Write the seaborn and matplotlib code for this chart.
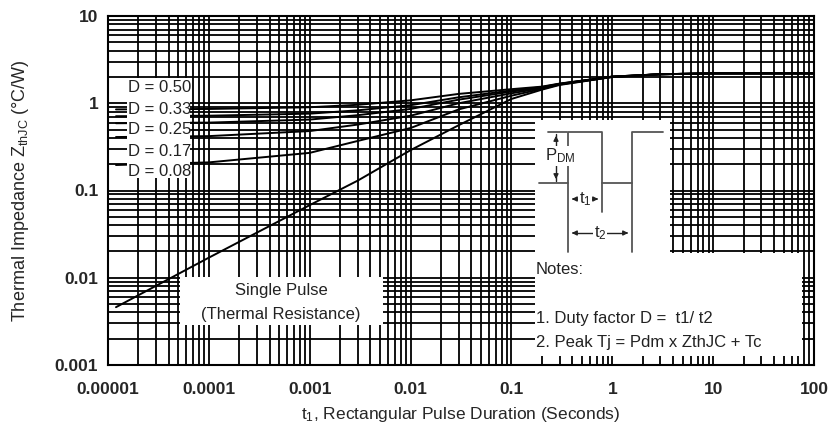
import numpy as np
import pandas as pd
import matplotlib
matplotlib.use('Agg')
import matplotlib.pyplot as plt
from matplotlib.ticker import LogLocator, FixedFormatter, FixedLocator
import seaborn as sns

# Pulse durations (s) and read-off impedances (°C/W)
t_pulse = [1.2e-5, 1e-4, 1e-3, 3e-3, 1e-2, 3e-2, 0.1, 0.2, 0.3, 1, 3, 10, 100]
z_d050 = [0.85, 0.86, 0.90, 0.96, 1.08, 1.28, 1.45, 1.55, 1.68, 2.02, 2.15, 2.2, 2.2]
z_d033 = [0.71, 0.72, 0.76, 0.83, 0.95, 1.17, 1.40, 1.53, 1.67, 2.02, 2.15, 2.2, 2.2]
z_d025 = [0.59, 0.60, 0.65, 0.73, 0.86, 1.10, 1.36, 1.51, 1.66, 2.02, 2.15, 2.2, 2.2]
z_d017 = [0.41, 0.42, 0.48, 0.57, 0.72, 1.00, 1.30, 1.49, 1.65, 2.01, 2.15, 2.2, 2.2]
z_d008 = [0.196, 0.21, 0.27, 0.37, 0.52, 0.85, 1.22, 1.46, 1.64, 2.00, 2.15, 2.2, 2.2]
z_single = [0.0046, 0.017, 0.068, 0.13, 0.29, 0.56, 1.12, 1.43, 1.62, 2.00, 2.15, 2.2, 2.2]

series_names = ['D = 0.50', 'D = 0.33', 'D = 0.25', 'D = 0.17', 'D = 0.08', 'Single']
series_vals = [z_d050, z_d033, z_d025, z_d017, z_d008, z_single]

x_ticks = [1e-5, 1e-4, 1e-3, 1e-2, 1e-1, 1, 10, 100]
x_labels = ['0.00001', '0.0001', '0.001', '0.01', '0.1', '1', '10', '100']
y_ticks = [1e-3, 1e-2, 1e-1, 1, 10]
y_labels = ['0.001', '0.01', '0.1', '1', '10']

sns.set_theme(style="white")
plt.rcParams['font.family'] = ['Liberation Sans', 'DejaVu Sans']
plt.rcParams['mathtext.default'] = 'regular'

rows = []
for name, vals in zip(series_names, series_vals):
    for t, z in zip(t_pulse, vals):
        rows.append({'t': t, 'Z': z, 'curve': name})
df = pd.DataFrame(rows)

W, H = 831, 434
fig = plt.figure(figsize=(W / 100, H / 100), dpi=100)
L, R, T, B = 108, 814, 16, 365
ax = fig.add_axes([L / W, (H - B) / H, (R - L) / W, (B - T) / H])

sns.lineplot(data=df, x='t', y='Z', hue='curve', palette=['black'] * 6,
             linewidth=1.4, legend=False, ax=ax, zorder=2)

ax.set_xscale('log')
ax.set_yscale('log')
ax.set_xlim(1e-5, 100)
ax.set_ylim(1e-3, 10)

ax.xaxis.set_major_locator(FixedLocator(x_ticks))
ax.xaxis.set_major_formatter(FixedFormatter(x_labels))
ax.yaxis.set_major_locator(FixedLocator(y_ticks))
ax.yaxis.set_major_formatter(FixedFormatter(y_labels))
ax.xaxis.set_minor_locator(LogLocator(base=10, subs=np.arange(2, 10), numticks=20))
ax.yaxis.set_minor_locator(LogLocator(base=10, subs=np.arange(2, 10), numticks=20))
ax.grid(True, which='both', color='black', linewidth=1.3, zorder=1)
ax.set_axisbelow(True)
ax.tick_params(which='both', length=0)
ax.tick_params(axis='both', labelsize=12.5)
ax.tick_params(axis='x', pad=12)
ax.tick_params(axis='y', pad=7)
for lab in ax.get_xticklabels() + ax.get_yticklabels():
    lab.set_fontweight('bold')
for s in ax.spines.values():
    s.set_color('black')
    s.set_linewidth(1.5)

ax.set_xlabel('t$_{1}$, Rectangular Pulse Duration (Seconds)', fontsize=12.5, labelpad=6)
ax.set_ylabel('Thermal Impedance Z$_{thJC}$ (°C/W)', fontsize=13, labelpad=17)


def fx(px):
    return (px - L) / (R - L)


def fy(py):
    return (B - py) / (B - T)


def box(x0, y0, x1, y1):
    ax.add_patch(plt.Rectangle((fx(x0), fy(y1)), fx(x1) - fx(x0), fy(y0) - fy(y1),
                               transform=ax.transAxes, facecolor='white',
                               edgecolor='none', zorder=3))


def seg(xs, ys, color='#555555', lw=1.3):
    ax.plot([fx(v) for v in xs], [fy(v) for v in ys], color=color, lw=lw,
            transform=ax.transAxes, zorder=4, clip_on=False)


def txt(px, py, s, size=12, ha='left'):
    ax.text(fx(px), fy(py), s, transform=ax.transAxes, fontsize=size,
            ha=ha, va='center', color='#222222', zorder=5)


# white boxes over the grid
box(127, 78, 190, 178)
box(180, 277, 383, 325)
box(535, 120, 670, 253)
box(535, 253, 802, 356)

# duty labels
for name, py in zip(series_names[:5], [88, 109, 130, 151, 172]):
    txt(128, py, name, size=12)

txt(281, 291, 'Single Pulse', size=12, ha='center')
txt(281, 315, '(Thermal Resistance)', size=12, ha='center')

# pulse waveform sketch
seg([539, 568, 568, 602, 602, 632, 632, 663], [183, 183, 132, 132, 183, 183, 132, 132])
seg([548, 567], [132, 132])
seg([556, 556], [134, 181], color='#222222', lw=1.0)
ax.annotate('', xy=(fx(556), fy(133)), xytext=(fx(556), fy(142)), xycoords='axes fraction',
            arrowprops=dict(arrowstyle='-|>', color='#222222', lw=1, mutation_scale=7), zorder=5)
ax.annotate('', xy=(fx(556), fy(182)), xytext=(fx(556), fy(173)), xycoords='axes fraction',
            arrowprops=dict(arrowstyle='-|>', color='#222222', lw=1, mutation_scale=7), zorder=5)
ax.text(fx(545), fy(156), 'P$_{DM}$', transform=ax.transAxes, fontsize=12,
        ha='left', va='center', color='#222222', zorder=5,
        bbox=dict(facecolor='white', edgecolor='none', pad=0.5))
seg([568, 568], [183, 252])
seg([602, 602], [183, 212])
seg([632, 632], [183, 252])
for xa, xb, yy in [(568, 602, 199), (568, 632, 233)]:
    ax.annotate('', xy=(fx(xa + 1), fy(yy)), xytext=(fx(xa + 9), fy(yy)), xycoords='axes fraction',
                arrowprops=dict(arrowstyle='-|>', color='#222222', lw=1, mutation_scale=7), zorder=5)
    ax.annotate('', xy=(fx(xb - 1), fy(yy)), xytext=(fx(xb - 9), fy(yy)), xycoords='axes fraction',
                arrowprops=dict(arrowstyle='-|>', color='#222222', lw=1, mutation_scale=7), zorder=5)
    seg([xa + 8, xb - 8], [yy, yy], color='#222222', lw=1.0)
ax.text(fx(585), fy(199), 't$_{1}$', transform=ax.transAxes, fontsize=12, ha='center',
        va='center', color='#222222', zorder=6,
        bbox=dict(facecolor='white', edgecolor='none', pad=0.3))
ax.text(fx(600), fy(233), 't$_{2}$', transform=ax.transAxes, fontsize=12, ha='center',
        va='center', color='#222222', zorder=6,
        bbox=dict(facecolor='white', edgecolor='none', pad=0.3))

# notes
txt(536, 270, 'Notes:', size=12)
txt(536, 319, '1. Duty factor D =  t1/ t2', size=12)
txt(536, 343, '2. Peak Tj = Pdm x ZthJC + Tc', size=12)

fig.savefig('out.png', dpi=100)
